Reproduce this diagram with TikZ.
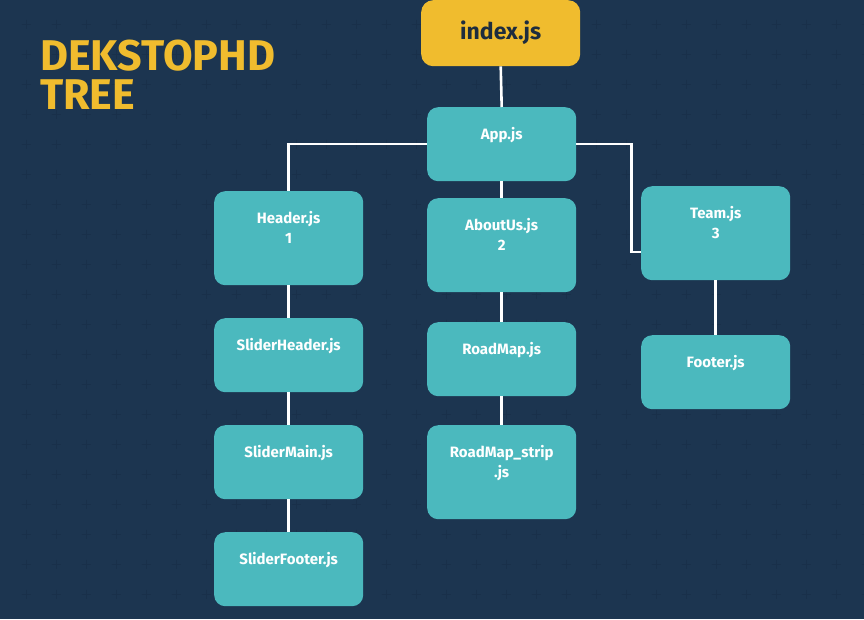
\documentclass[tikz,border=0pt]{standalone}
\usepackage{fontspec}
\setmainfont{Fira Sans}
\definecolor{bgnavy}{RGB}{28,53,80}
\definecolor{gridmark}{RGB}{25,48,74}
\definecolor{tealbox}{RGB}{75,185,190}
\definecolor{goldbox}{RGB}{240,188,46}
\definecolor{darktext}{RGB}{30,45,62}
\tikzset{
  filebox/.style={draw=none, fill=tealbox, rounded corners=11pt, inner sep=0pt,
    minimum width=149pt, text width=149pt, align=center, anchor=north west,
    text height=32pt, text depth=42pt, text=white,
    font=\fontsize{15}{20}\selectfont\bfseries},
  twoline/.style={text depth=62pt},
  rootbox/.style={draw=none, fill=goldbox, rounded corners=12pt, inner sep=0pt,
    minimum width=159pt, minimum height=66pt, anchor=north west, text=darktext,
    font=\fontsize{23}{26}\selectfont\bfseries},
  link/.style={draw=white, line width=2.6pt},
  cross/.style={draw=gridmark, line width=1pt}
}
\begin{document}
\begin{tikzpicture}[x=1pt,y=-1pt]
\fill[bgnavy] (0,0) rectangle (864,619);
\useasboundingbox (0,0) rectangle (864,619);
% background grid of plus marks
\foreach \gx in {26,56,...,866} {
  \foreach \gy in {24,54,...,620} {
    \draw[cross] (\gx-4.5,\gy) -- (\gx+4.5,\gy) (\gx,\gy-4.5) -- (\gx,\gy+4.5);
  }
}
% title
\node[anchor=north west, inner sep=0pt, text=goldbox, align=left,
  font=\fontsize{43}{39}\selectfont\bfseries] (title) at (40,40) {DEKSTOPHD\\TREE};
% boxes
\node[rootbox] (index) at (421,0) {index.js};
\node[filebox] (app) at (427,107) {App.js};
\node[filebox, twoline] (header) at (214,191) {Header.js\\1};
\node[filebox, twoline] (about) at (427,198) {AboutUs.js\\2};
\node[filebox, twoline] (team) at (641,186) {Team.js\\3};
\node[filebox] (sheader) at (214,318) {SliderHeader.js};
\node[filebox] (smain) at (214,425) {SliderMain.js};
\node[filebox] (sfooter) at (214,532) {SliderFooter.js};
\node[filebox] (roadmap) at (427,322) {RoadMap.js};
\node[filebox, twoline] (strip) at (427,425) {RoadMap\_strip\\.js};
\node[filebox] (footer) at (641,335) {Footer.js};
% connectors
\coordinate (appL) at ([yshift=-37pt]app.north west);
\coordinate (appR) at ([yshift=-37pt]app.north east);
\draw[link] (index.south) -- (app.north);
\draw[link] (appL) -| (header.north);
\draw[link] (appR) -- ++(55,0) |- ([yshift=-66pt]team.north west);
\draw[link] (app.south) -- (about.north);
\draw[link] (header.south) -- (sheader.north);
\draw[link] (sheader.south) -- (smain.north);
\draw[link] (smain.south) -- (sfooter.north);
\draw[link] (about.south) -- (roadmap.north);
\draw[link] (roadmap.south) -- (strip.north);
\draw[link] (team.south) -- (footer.north);
\end{tikzpicture}
\end{document}
